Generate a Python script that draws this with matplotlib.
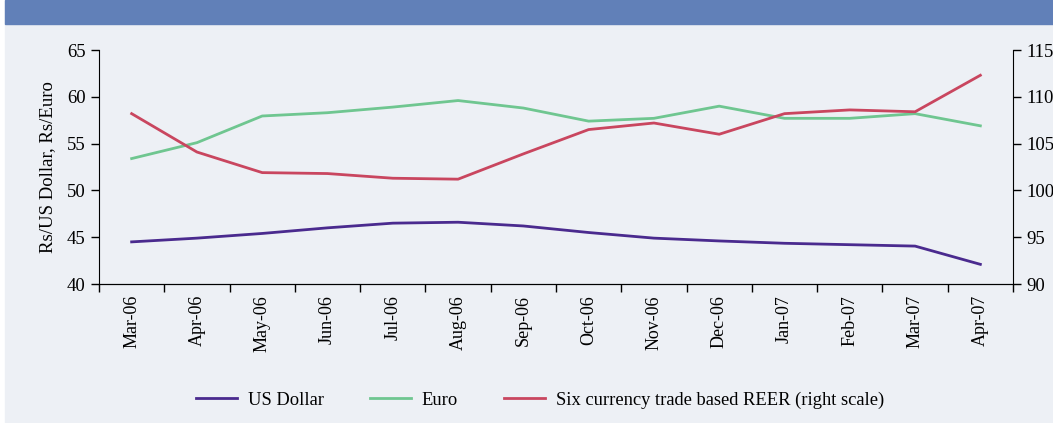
import matplotlib
matplotlib.use("Agg")
import matplotlib.pyplot as plt
from matplotlib.patches import Rectangle
from matplotlib.lines import Line2D
import numpy as np

months = ['Mar-06', 'Apr-06', 'May-06', 'Jun-06', 'Jul-06', 'Aug-06', 'Sep-06',
          'Oct-06', 'Nov-06', 'Dec-06', 'Jan-07', 'Feb-07', 'Mar-07', 'Apr-07']
us_dollar = [44.5, 44.9, 45.4, 46.0, 46.5, 46.6, 46.2, 45.5, 44.9, 44.6, 44.35, 44.2, 44.05, 42.1]
euro = [53.4, 55.1, 57.95, 58.3, 58.9, 59.6, 58.8, 57.4, 57.7, 59.0, 57.7, 57.7, 58.2, 56.9]
reer = [108.2, 104.1, 101.9, 101.8, 101.3, 101.2, 103.9, 106.5, 107.2, 106.0, 108.2, 108.6, 108.4, 112.3]

c_usd = '#4a2a8e'
c_eur = '#6fc690'
c_reer = '#c9465f'
bg = '#edf0f5'

plt.rcParams['font.family'] = 'Liberation Serif'

fig = plt.figure(figsize=(10.53, 4.23), dpi=100)
fig.patch.set_facecolor('white')
# panel background and header band
fig.patches.append(Rectangle((5/1053, 0), 1, 1, transform=fig.transFigure, color=bg, zorder=-10))
fig.patches.append(Rectangle((5/1053, 1-24/423), 1, 24/423, transform=fig.transFigure, color='#6180b8', zorder=-9))

ax = fig.add_axes([99/1053, 1-284/423, 914/1053, 234/423])
ax.set_facecolor(bg)
x = np.arange(len(months))
ax.plot(x, us_dollar, color=c_usd, lw=2)
ax.plot(x, euro, color=c_eur, lw=2)
ax.set_xlim(-0.5, len(months)-0.5)
ax.set_ylim(40, 65)
ax.set_yticks([40, 45, 50, 55, 60, 65])
ax.set_ylabel('Rs/US Dollar, Rs/Euro', fontsize=13.5, labelpad=8)
ax.set_xticks(x)
ax.set_xticklabels(months, rotation=90, fontsize=13)
ax.set_xticks(np.arange(len(months)+1)-0.5, minor=True)
ax.tick_params(axis='x', which='major', length=0, pad=8)
ax.tick_params(axis='x', which='minor', length=6, width=1)
ax.tick_params(axis='y', labelsize=13.5, length=6, width=1)
ax.spines['top'].set_visible(False)
ax.spines['right'].set_visible(False)

ax2 = ax.twinx()
ax2.plot(x, reer, color=c_reer, lw=2)
ax2.set_ylim(90, 115)
ax2.set_yticks([90, 95, 100, 105, 110, 115])
ax2.tick_params(axis='y', labelsize=13.5, length=6, width=1)
ax2.spines['top'].set_visible(False)
ax2.spines['left'].set_visible(False)

handles = [Line2D([], [], color=c_usd, lw=2), Line2D([], [], color=c_eur, lw=2),
           Line2D([], [], color=c_reer, lw=2)]
fig.legend(handles, ['US Dollar', 'Euro', 'Six currency trade based REER (right scale)'],
           loc='center', bbox_to_anchor=(540/1053, 1-400/423), ncol=3, frameon=False,
           fontsize=13.3, handlelength=2.2, handletextpad=0.6, columnspacing=2.5)

fig.savefig('out.png', dpi=100, facecolor=fig.get_facecolor())
